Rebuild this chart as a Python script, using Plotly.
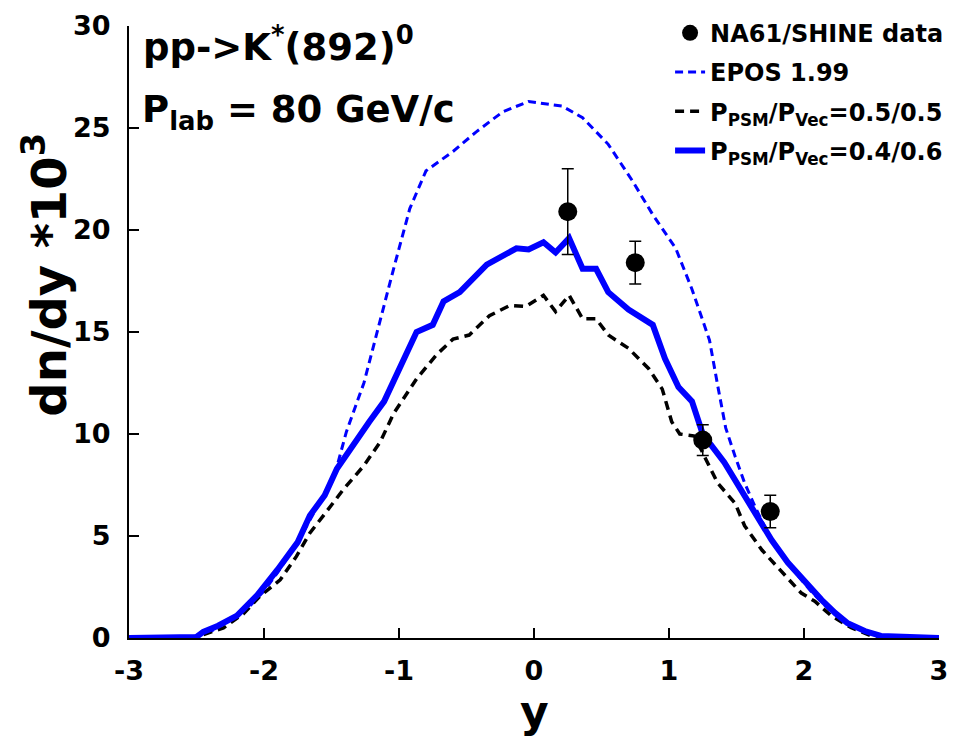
import plotly.graph_objects as go

# ---- data ----
data_y = [0.25, 0.75, 1.25, 1.75]
data_val = [20.9, 18.4, 9.7, 6.2]
data_err = [2.1, 1.05, 0.75, 0.8]

epos_x = [-3.0, -2.6, -2.5, -2.4, -2.3, -2.2, -2.1, -2.0, -1.9, -1.8, -1.7, -1.6, -1.5,
          -1.46, -1.39, -1.26, -1.17, -1.04, -0.92, -0.80, -0.60, -0.43, -0.23, -0.04,
          0.21, 0.36, 0.55, 0.73, 0.88, 1.05, 1.17, 1.30, 1.36, 1.42, 1.49, 1.56, 1.64,
          1.75, 1.90, 2.05, 2.20, 2.35, 2.50, 2.65, 3.0]
epos_val = [0, 0, 0.1, 0.3, 0.7, 1.1, 1.6, 2.3, 3.2, 4.2, 5.3, 6.5, 7.7,
            8.4, 10.1, 12.5, 14.85, 18.1, 21.05, 22.9, 23.85, 24.8, 25.8, 26.3,
            26.07, 25.5, 24.2, 22.4, 20.75, 19.1, 17.1, 14.6, 12.4, 10.3, 8.9, 7.6, 6.4,
            4.9, 3.5, 2.3, 1.3, 0.6, 0.2, 0.05, 0]

p55_x = [-3.0, -2.5, -2.3, -2.15, -2.03, -1.88, -1.76, -1.66, -1.56, -1.41, -1.26, -1.14,
         -1.04, -0.92, -0.87, -0.72, -0.60, -0.48, -0.33, -0.18, -0.06, 0.07, 0.16, 0.26,
         0.36, 0.46, 0.55, 0.70, 0.85, 0.95, 1.02, 1.08, 1.19, 1.27, 1.36, 1.49, 1.56,
         1.69, 1.84, 1.98, 2.08, 2.20, 2.35, 2.50, 3.0]
p55_val = [0, 0.05, 0.5, 1.2, 2.05, 2.85, 4.0, 5.15, 6.0, 7.3, 8.45, 9.6,
           11.0, 12.2, 12.7, 13.9, 14.65, 14.85, 15.8, 16.3, 16.25, 16.8, 16.0, 16.8,
           15.65, 15.65, 14.85, 14.2, 13.2, 12.2, 10.6, 10.0, 9.9, 8.8, 7.6, 6.6, 5.5,
           4.3, 3.2, 2.2, 1.8, 1.1, 0.5, 0.1, 0]

p46_x = [-3.0, -2.5, -2.45, -2.34, -2.2, -2.05, -1.9, -1.75, -1.66, -1.55, -1.46, -1.36,
         -1.22, -1.11, -1.02, -0.87, -0.75, -0.67, -0.55, -0.35, -0.13, -0.04, 0.07, 0.16,
         0.26, 0.36, 0.46, 0.55, 0.70, 0.88, 0.97, 1.07, 1.17, 1.25, 1.41, 1.51, 1.64,
         1.76, 1.88, 2.03, 2.13, 2.23, 2.32, 2.45, 2.57, 3.0]
p46_val = [0, 0.05, 0.3, 0.6, 1.1, 2.1, 3.35, 4.7, 6.0, 7.0, 8.3, 9.3,
           10.6, 11.6, 12.9, 15.0, 15.35, 16.5, 16.95, 18.3, 19.1, 19.05, 19.4, 18.9,
           19.6, 18.1, 18.1, 16.95, 16.1, 15.35, 13.7, 12.3, 11.6, 10.0, 8.6, 7.5, 6.0,
           4.8, 3.7, 2.55, 1.87, 1.23, 0.74, 0.34, 0.1, 0]

x_ticks = [-3, -2, -1, 0, 1, 2, 3]
x_tick_labels = ["-3", "-2", "-1", "0", "1", "2", "3"]
y_ticks = [0, 5, 10, 15, 20, 25, 30]
y_tick_labels = ["0", "5", "10", "15", "20", "25", "30"]

FONT = "DejaVu Sans, Liberation Sans, Arial, sans-serif"
BLUE = "#0000FF"

fig = go.Figure()
fig.add_trace(go.Scatter(x=epos_x, y=epos_val, mode="lines", name="EPOS 1.99",
                         line=dict(color=BLUE, width=3, dash="8px,5px"),
                         legendrank=2, legendgroup="b"))
fig.add_trace(go.Scatter(x=p55_x, y=p55_val, mode="lines",
                         name="P<sub>PSM</sub>/P<sub>Vec</sub>=0.5/0.5",
                         line=dict(color="black", width=3.5, dash="9px,6px"),
                         legendrank=3, legendgroup="c"))
fig.add_trace(go.Scatter(x=p46_x, y=p46_val, mode="lines",
                         name="P<sub>PSM</sub>/P<sub>Vec</sub>=0.4/0.6",
                         line=dict(color=BLUE, width=6),
                         legendrank=4, legendgroup="d"))
fig.add_trace(go.Scatter(x=data_y, y=data_val, mode="markers", name="NA61/SHINE data",
                         marker=dict(color="black", size=19),
                         error_y=dict(type="data", array=data_err, color="black",
                                      thickness=1.5, width=6),
                         legendrank=1, legendgroup="a"))

axis_common = dict(showline=True, linecolor="black", linewidth=2, ticks="inside",
                   ticklen=10, tickwidth=2, tickcolor="black", showgrid=False,
                   zeroline=False, mirror=False,
                   tickfont=dict(family=FONT, size=27, color="black", weight="bold"))

fig.update_layout(
    width=960, height=742,
    margin=dict(l=129, r=11, t=24, b=104),
    paper_bgcolor="white", plot_bgcolor="white",
    xaxis=dict(range=[-3, 3], tickvals=x_ticks, ticktext=x_tick_labels,
               ticklabelstandoff=8, **axis_common),
    yaxis=dict(range=[0, 30], tickvals=y_ticks, ticktext=y_tick_labels,
               ticklabelstandoff=11, **axis_common),
    legend=dict(x=0.668, y=1.025, xanchor="left", yanchor="top",
                font=dict(family=FONT, size=24, color="black", weight="bold"),
                bgcolor="rgba(0,0,0,0)", traceorder="grouped", tracegroupgap=5),
    annotations=[
        dict(text="pp->K<sup>*</sup>(892)<sup>0</sup>", xref="paper", yref="paper",
             x=0.015, y=0.97, xanchor="left", yanchor="middle", showarrow=False,
             font=dict(family=FONT, size=37, color="black", weight="bold")),
        dict(text="P<sub>lab</sub> = 80 GeV/c", xref="paper", yref="paper",
             x=0.013, y=0.86, xanchor="left", yanchor="middle", showarrow=False,
             font=dict(family=FONT, size=37, color="black", weight="bold")),
        dict(text="dn/dy *10<sup>3</sup>", xref="paper", yref="paper",
             x=-0.103, y=0.593, xanchor="center", yanchor="middle", textangle=-90,
             showarrow=False,
             font=dict(family=FONT, size=48, color="black", weight="bold")),
        dict(text="y", xref="paper", yref="paper",
             x=0.5, y=-0.1205, xanchor="center", yanchor="middle", showarrow=False,
             font=dict(family=FONT, size=44, color="black", weight="bold")),
    ],
)

fig.write_html("out.html")
